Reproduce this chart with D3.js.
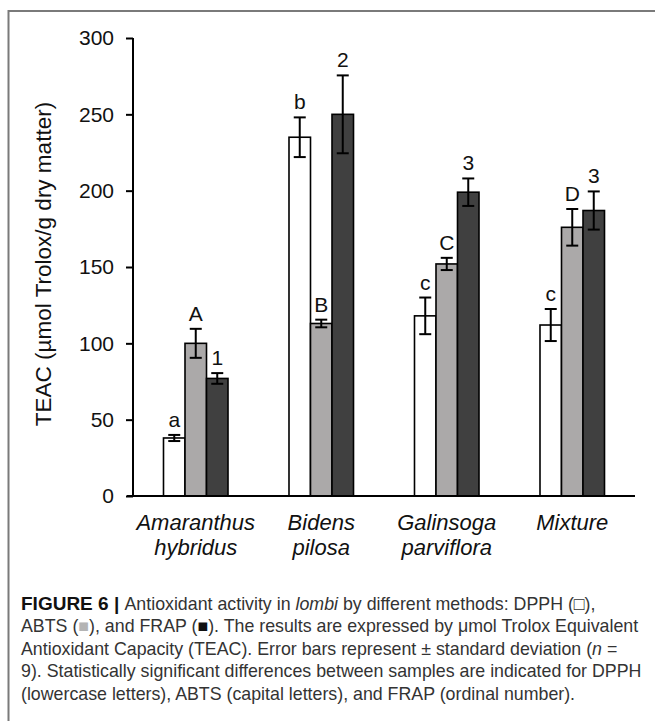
<!DOCTYPE html>
<html>
<head>
<meta charset="utf-8">
<script src="https://cdn.jsdelivr.net/npm/d3@7"></script>
<style>
  body { margin: 0; background: #fff; }
  svg { display: block; font-family: "Liberation Sans", Arial, sans-serif; }
</style>
</head>
<body>
<svg id="chart" width="655" height="721"></svg>
<script>
// Data
const categories = ["Amaranthus hybridus", "Bidens pilosa", "Galinsoga parviflora", "Mixture"];
const methods = ["DPPH", "ABTS", "FRAP"];
const dpph = [38, 235, 118, 112];
const dpphErr = [2, 13, 12, 10.5];
const abts = [100, 113, 152, 176];
const abtsErr = [9.5, 2.5, 4, 12];
const frap = [77, 250, 199, 187];
const frapErr = [3.5, 25.5, 9, 12.5];
const dpphLetters = ["a", "b", "c", "c"];
const abtsLetters = ["A", "B", "C", "D"];
const frapLetters = ["1", "2", "3", "3"];
const yTicks = [0, 50, 100, 150, 200, 250, 300];

const colors = { DPPH: "#ffffff", ABTS: "#aba9a9", FRAP: "#404040" };

//==========================================
// Build rows for drawing
//==========================================
const seriesValues = { DPPH: dpph, ABTS: abts, FRAP: frap };
const seriesErr = { DPPH: dpphErr, ABTS: abtsErr, FRAP: frapErr };
const seriesLetters = { DPPH: dpphLetters, ABTS: abtsLetters, FRAP: frapLetters };

const rows = [];
categories.forEach((cat, i) => {
  methods.forEach(m => {
    rows.push({ cat, method: m, value: seriesValues[m][i], err: seriesErr[m][i], label: seriesLetters[m][i] });
  });
});

const svg = d3.select("#chart");

// Frame around the figure
svg.append("path")
  .attr("d", "M8.5,721 V11 H655")
  .style("fill", "none")
  .style("stroke", "#7a7a7a")
  .style("stroke-width", 2);

// Scales
const x0 = d3.scaleBand().domain(categories).range([133, 635])
  .paddingInner(0.486).paddingOuter(0.243);
const x1 = d3.scaleBand().domain(methods).range([0, x0.bandwidth()]);
const y = d3.scaleLinear().domain([0, 300]).range([496, 38]);

const chartFont = 21;

// Y axis
const yAxis = svg.append("g")
  .attr("transform", "translate(133,0)")
  .call(d3.axisLeft(y).tickValues(yTicks).tickSize(7).tickPadding(12));
yAxis.select(".domain").attr("d", `M0,${y(300)}V${y(0)}`).style("stroke-width", 2);
yAxis.selectAll(".tick line").style("stroke-width", 2);
yAxis.selectAll(".tick text").style("font-size", chartFont + "px").style("fill", "#111");

// Y axis title
svg.append("text")
  .attr("transform", `translate(51,${(y(0) + y(300)) / 2 - 3}) rotate(-90)`)
  .style("text-anchor", "middle")
  .style("font-size", "22.5px")
  .style("fill", "#111")
  .text("TEAC (µmol Trolox/g dry matter)");

// Bars
const bars = svg.append("g");
bars.selectAll("rect")
  .data(rows)
  .enter().append("rect")
  .attr("x", d => x0(d.cat) + x1(d.method))
  .attr("y", d => y(d.value))
  .attr("width", x1.bandwidth())
  .attr("height", d => y(0) - y(d.value))
  .style("fill", d => colors[d.method])
  .style("stroke", "#000")
  .style("stroke-width", 1.6);

// Error bars
const capW = 12;
const errs = svg.append("g").style("stroke", "#000").style("stroke-width", 2);
rows.forEach(d => {
  const cx = x0(d.cat) + x1(d.method) + x1.bandwidth() / 2;
  const top = y(d.value + d.err);
  const bot = y(d.value - d.err);
  errs.append("line").attr("x1", cx).attr("x2", cx).attr("y1", top).attr("y2", bot);
  errs.append("line").attr("x1", cx - capW / 2).attr("x2", cx + capW / 2).attr("y1", top).attr("y2", top);
  errs.append("line").attr("x1", cx - capW / 2).attr("x2", cx + capW / 2).attr("y1", bot).attr("y2", bot);
});

// Significance letters
svg.append("g").selectAll("text")
  .data(rows)
  .enter().append("text")
  .attr("x", d => x0(d.cat) + x1(d.method) + x1.bandwidth() / 2)
  .attr("y", d => y(d.value + d.err) - 8)
  .style("text-anchor", "middle")
  .style("font-size", chartFont + "px")
  .style("fill", "#111")
  .text(d => d.label);

// X axis line
svg.append("line")
  .attr("x1", 127).attr("x2", 635)
  .attr("y1", y(0)).attr("y2", y(0))
  .style("stroke", "#000")
  .style("stroke-width", 2);

// Category labels (italic, two lines)
const xl = svg.append("g");
categories.forEach(cat => {
  const words = cat.split(" ");
  const t = xl.append("text")
    .attr("x", x0(cat) + x0.bandwidth() / 2)
    .attr("y", 530)
    .style("text-anchor", "middle")
    .style("font-style", "italic")
    .style("font-size", "22px")
    .style("fill", "#111");
  words.forEach((w, i) => {
    t.append("tspan")
      .attr("x", x0(cat) + x0.bandwidth() / 2)
      .attr("dy", i === 0 ? 0 : 25)
      .text(w);
  });
});

//==========================================
// Caption
//==========================================
const captionLines = [
  [{ t: "FIGURE 6 | ", b: true }, { t: "Antioxidant activity in " }, { t: "lombi", i: true }, { t: " by different methods: DPPH (" }, { t: "□", f: "#333" }, { t: ")," }],
  [{ t: "ABTS (" }, { t: "■", f: "#b4b4b4" }, { t: "), and FRAP (" }, { t: "■", f: "#111" }, { t: "). The results are expressed by μmol Trolox Equivalent" }],
  [{ t: "Antioxidant Capacity (TEAC). Error bars represent ± standard deviation (" }, { t: "n", i: true }, { t: " =" }],
  [{ t: "9). Statistically significant differences between samples are indicated for DPPH" }],
  [{ t: "(lowercase letters), ABTS (capital letters), and FRAP (ordinal number)." }]
];

const cap = svg.append("g").style("font-size", "17.8px").style("fill", "#333");
captionLines.forEach((parts, i) => {
  const t = cap.append("text").attr("x", 21).attr("y", 610 + i * 22.4);
  parts.forEach(p => {
    t.append("tspan")
      .style("font-weight", p.b ? "bold" : null)
      .style("font-size", p.b ? "19px" : null)
      .style("font-style", p.i ? "italic" : null)
      .style("fill", p.f || (p.b ? "#111" : null))
      .text(p.t);
  });
});
</script>
</body>
</html>
